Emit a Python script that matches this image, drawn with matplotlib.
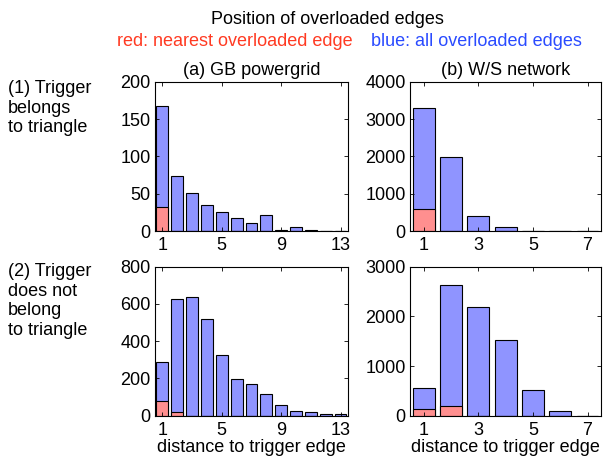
import matplotlib
matplotlib.use("Agg")
import matplotlib.pyplot as plt
import numpy as np

plt.rcParams['font.family'] = ['Liberation Sans', 'DejaVu Sans']

# (a) GB powergrid, trigger belongs to triangle
gb_tri_all = [168, 74, 51, 35, 25, 17, 11, 21, 1, 5, 1, 0.3, 0]
gb_tri_near = [32, 0, 0, 0, 0, 0, 0, 0, 0, 0, 0, 0, 0]
# (b) W/S network, trigger belongs to triangle
ws_tri_all = [3290, 1980, 395, 110, 10, 3, 1]
ws_tri_near = [600, 0, 0, 0, 0, 0, 0]
# (a) GB powergrid, trigger does not belong to triangle
gb_not_all = [288, 626, 638, 517, 327, 199, 172, 119, 57, 28, 20, 12, 7]
gb_not_near = [78, 21, 0, 0, 0, 0, 0, 0, 0, 0, 0, 0, 0]
# (b) W/S network, trigger does not belong to triangle
ws_not_all = [550, 2620, 2195, 1525, 520, 88, 5]
ws_not_near = [128, 192, 0, 0, 0, 0, 0]

gb_xticks = [1, 5, 9, 13]
ws_xticks = [1, 3, 5, 7]

BLUE = '#8f94ff'
RED = '#ff8f8f'

fig = plt.figure(figsize=(6.03, 4.62), dpi=100)

fs = 13

def panel(rect, all_vals, near_vals, xticks, ylim, yticks, xlabel=None, title=None):
    ax = fig.add_axes(rect)
    x = np.arange(1, len(all_vals) + 1)
    ax.bar(x, all_vals, width=0.8, color=BLUE, edgecolor='black', linewidth=0.8)
    ax.bar(x, near_vals, width=0.8, color=RED, edgecolor='black', linewidth=0.8)
    ax.set_xlim(0.5, len(all_vals) + 0.5)
    ax.set_ylim(*ylim)
    ax.set_xticks(xticks)
    ax.set_yticks(yticks)
    ax.tick_params(direction='in', top=True, right=True, length=3, width=0.6,
                   labelsize=fs)
    ax.tick_params(axis='x', pad=4.5)
    ax.tick_params(axis='y', pad=3)
    for s in ax.spines.values():
        s.set_linewidth(0.8)
    if xlabel:
        ax.set_xlabel(xlabel, fontsize=fs, labelpad=0)
    if title:
        ax.set_title(title, fontsize=fs, pad=5)
    return ax

w1 = 0.320
w2 = 0.317
h = 0.323
panel([0.257, 0.500, w1, h], gb_tri_all, gb_tri_near, gb_xticks, (0, 200),
      [0, 50, 100, 150, 200], title='(a) GB powergrid')
panel([0.680, 0.500, w2, h], ws_tri_all, ws_tri_near, ws_xticks, (0, 4000),
      [0, 1000, 2000, 3000, 4000], title='(b) W/S network')
panel([0.257, 0.100, w1, h], gb_not_all, gb_not_near, gb_xticks, (0, 800),
      [0, 200, 400, 600, 800], xlabel='distance to trigger edge')
panel([0.680, 0.100, w2, h], ws_not_all, ws_not_near, ws_xticks, (0, 3000),
      [0, 1000, 2000, 3000], xlabel='distance to trigger edge')

fig.text(327 / 603, 1 - 19 / 462, 'Position of overloaded edges', fontsize=fs,
         ha='center', va='center')
fig.text(353 / 603, 1 - 41 / 462, 'red: nearest overloaded edge', fontsize=fs,
         ha='right', va='center', color='#ff3a22')
fig.text(371 / 603, 1 - 41 / 462, 'blue: all overloaded edges', fontsize=fs,
         ha='left', va='center', color='#2a4bff')

fig.text(8 / 603, 1 - 80 / 462, '(1) Trigger\nbelongs\nto triangle', fontsize=fs,
         ha='left', va='top', linespacing=1.2)
fig.text(8 / 603, 1 - 263 / 462, '(2) Trigger\ndoes not\nbelong\nto triangle', fontsize=fs,
         ha='left', va='top', linespacing=1.2)

fig.savefig('out.png', dpi=100)
